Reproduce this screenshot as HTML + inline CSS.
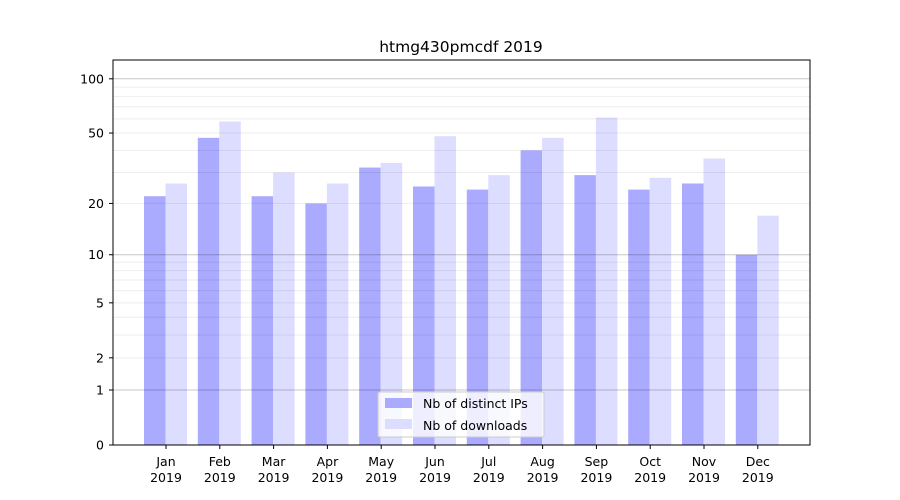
<!DOCTYPE html>
<html><head><meta charset="utf-8"><style>body{margin:0;background:#fff}svg{display:block}</style></head><body>
<svg width="900" height="500" xmlns="http://www.w3.org/2000/svg" font-family="DejaVu Sans, Liberation Sans, sans-serif">
<rect width="900" height="500" fill="#fff"/>
<g id="bars"></g>
<g id="grid"></g>
<rect x="113" y="60" width="697" height="385" fill="none" stroke="#000" stroke-width="1"/>
<g id="ticks" font-size="12.5"></g>
<text x="461" y="52" text-anchor="middle" font-size="15.5">htmg430pmcdf 2019</text>
<g>
<rect x="378" y="392" width="166" height="45" fill="#fff" fill-opacity="0.8" stroke="#ccc" rx="2"/>
<rect x="385" y="398" width="27" height="10" fill="#aaaaff"/>
<text x="423" y="408" font-size="12.5">Nb of distinct IPs</text>
<rect x="385" y="419" width="27" height="10" fill="#ddddff"/>
<text x="423" y="430" font-size="12.5">Nb of downloads</text>
</g>
<script>
var ns="http://www.w3.org/2000/svg";
function Y(v){return 445-182.7*Math.log10(v+1);}
function el(p,t,a,txt){var e=document.createElementNS(ns,t);for(var k in a)e.setAttribute(k,a[k]);if(txt!=null)e.textContent=txt;p.appendChild(e);return e;}
var g=document.getElementById("grid");
[2,3,4,5,6,7,8,9,20,30,40,50,60,70,80,90].forEach(function(v){var y=Y(v);el(g,"line",{x1:113,x2:810,y1:y,y2:y,stroke:"#000","stroke-opacity":0.07,"stroke-width":1});});
[1,10,100].forEach(function(v){var y=Y(v);el(g,"line",{x1:113,x2:810,y1:y,y2:y,stroke:"#000","stroke-opacity":0.22,"stroke-width":1});});
var b=document.getElementById("bars");
var ips=[22,47,22,20,32,25,24,40,29,24,26,10],dl=[26,58,30,26,34,48,29,47,61,28,36,17];
var m=["Jan","Feb","Mar","Apr","May","Jun","Jul","Aug","Sep","Oct","Nov","Dec"];
var t=document.getElementById("ticks");
for(var i=0;i<12;i++){var c=166+53.8*i;
el(b,"rect",{x:c-22,y:Y(ips[i]),width:21.5,height:445-Y(ips[i]),fill:"#aaaaff"});
el(b,"rect",{x:c-0.5,y:Y(dl[i]),width:21.5,height:445-Y(dl[i]),fill:"#ddddff"});
el(t,"line",{x1:c,x2:c,y1:445,y2:449,stroke:"#000"});
el(t,"text",{x:c,y:466,"text-anchor":"middle"},m[i]);
el(t,"text",{x:c,y:482,"text-anchor":"middle"},"2019");}
[0,1,2,5,10,20,50,100].forEach(function(v){var y=Y(v);el(t,"line",{x1:109,x2:113,y1:y,y2:y,stroke:"#000"});el(t,"text",{x:104,y:y+4.5,"text-anchor":"end"},String(v));});
</script>
</svg>
</body></html>
